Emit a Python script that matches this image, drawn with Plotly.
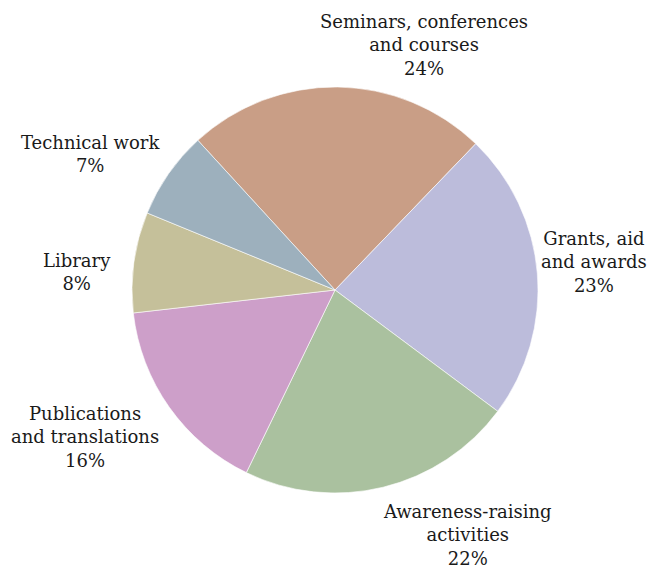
import math
import plotly.graph_objects as go

categories = ["Seminars, conferences<br>and courses", "Grants, aid<br>and awards",
              "Awareness-raising<br>activities", "Publications<br>and translations",
              "Library", "Technical work"]
values = [24, 23, 22, 16, 8, 7]
colors = ["#C99E86", "#BCBCDB", "#AAC19F", "#CD9FC9", "#C5C09A", "#9DB0BD"]

# div size (page body has an 8px margin)
W, H = 654, 561
cx, cy, r = 327, 282, 203
rotation = -42.5
gap = 10
# small label nudges (px): (xshift, yshift)
nudges = [(-20, -4), (-8, 11), (-4, -2), (0, 12), (-11, -11), (2, -10)]

fig = go.Figure(go.Pie(
    labels=categories, values=values, sort=False, direction="clockwise",
    rotation=rotation,
    marker=dict(colors=colors, line=dict(color="white", width=0.6)),
    textinfo="none",
    showlegend=False, hoverinfo="label+value",
    domain=dict(x=[(cx - r) / W, (cx + r) / W], y=[(H - cy - r) / H, (H - cy + r) / H]),
))

# outside labels anchored at each slice's mid-angle
total = sum(values)
start = rotation
for lab, v, (nx, ny) in zip(categories, values, nudges):
    mid = start + v / total * 180.0
    start += v / total * 360.0
    t = math.radians(mid)
    s, c = math.sin(t), math.cos(t)
    px = cx + (r + gap) * s
    py = cy - (r + gap) * c
    xa = "left" if s >= 0 else "right"
    ya = "bottom" if c > 0.5 else ("top" if c < -0.3 else "middle")
    fig.add_annotation(x=px / W, y=1 - py / H, xref="paper", yref="paper",
                       text=f"{lab}<br>{v}%", showarrow=False,
                       xanchor=xa, yanchor=ya, align="center",
                       xshift=nx, yshift=ny,
                       font=dict(family="DejaVu Serif", size=18, color="#1a1a1a"))

fig.update_layout(width=W, height=H, margin=dict(l=0, r=0, t=0, b=0),
                  paper_bgcolor="white", plot_bgcolor="white")
fig.write_html("out.html")
